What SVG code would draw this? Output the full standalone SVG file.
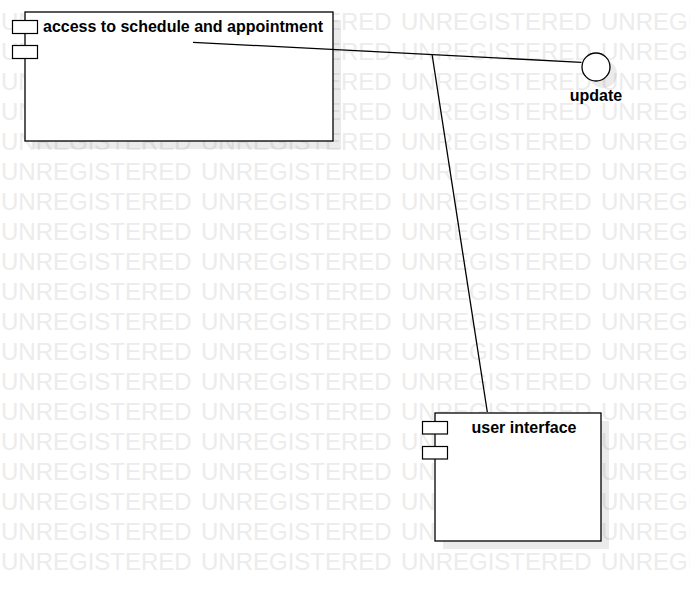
<svg xmlns="http://www.w3.org/2000/svg" width="690" height="591" viewBox="0 0 690 591">
<style>
.wm{font-family:"Liberation Sans",Arial,sans-serif;font-size:24px;fill:#ececec}
.box{fill:#ffffff;stroke:#000000;stroke-width:1.3}
.port{fill:#ffffff;stroke:#000000;stroke-width:1.2}
.shadow{fill:#000000;fill-opacity:0.08}
.lbl{font-family:"Liberation Sans",Arial,sans-serif;font-size:16px;font-weight:bold;fill:#000000}
.conn{fill:none;stroke:#000000;stroke-width:1.3}
</style>
<rect width="690" height="591" fill="#ffffff"/>
<g id="watermark">
<text class="wm" x="1" y="29.5">UNREGISTERED</text><text class="wm" x="201" y="29.5">UNREGISTERED</text><text class="wm" x="401" y="29.5">UNREGISTERED</text><text class="wm" x="601" y="29.5">UNREGISTERED</text>
<text class="wm" x="1" y="59.5">UNREGISTERED</text><text class="wm" x="201" y="59.5">UNREGISTERED</text><text class="wm" x="401" y="59.5">UNREGISTERED</text><text class="wm" x="601" y="59.5">UNREGISTERED</text>
<text class="wm" x="1" y="89.5">UNREGISTERED</text><text class="wm" x="201" y="89.5">UNREGISTERED</text><text class="wm" x="401" y="89.5">UNREGISTERED</text><text class="wm" x="601" y="89.5">UNREGISTERED</text>
<text class="wm" x="1" y="119.5">UNREGISTERED</text><text class="wm" x="201" y="119.5">UNREGISTERED</text><text class="wm" x="401" y="119.5">UNREGISTERED</text><text class="wm" x="601" y="119.5">UNREGISTERED</text>
<text class="wm" x="1" y="149.5">UNREGISTERED</text><text class="wm" x="201" y="149.5">UNREGISTERED</text><text class="wm" x="401" y="149.5">UNREGISTERED</text><text class="wm" x="601" y="149.5">UNREGISTERED</text>
<text class="wm" x="1" y="179.5">UNREGISTERED</text><text class="wm" x="201" y="179.5">UNREGISTERED</text><text class="wm" x="401" y="179.5">UNREGISTERED</text><text class="wm" x="601" y="179.5">UNREGISTERED</text>
<text class="wm" x="1" y="209.5">UNREGISTERED</text><text class="wm" x="201" y="209.5">UNREGISTERED</text><text class="wm" x="401" y="209.5">UNREGISTERED</text><text class="wm" x="601" y="209.5">UNREGISTERED</text>
<text class="wm" x="1" y="239.5">UNREGISTERED</text><text class="wm" x="201" y="239.5">UNREGISTERED</text><text class="wm" x="401" y="239.5">UNREGISTERED</text><text class="wm" x="601" y="239.5">UNREGISTERED</text>
<text class="wm" x="1" y="269.5">UNREGISTERED</text><text class="wm" x="201" y="269.5">UNREGISTERED</text><text class="wm" x="401" y="269.5">UNREGISTERED</text><text class="wm" x="601" y="269.5">UNREGISTERED</text>
<text class="wm" x="1" y="299.5">UNREGISTERED</text><text class="wm" x="201" y="299.5">UNREGISTERED</text><text class="wm" x="401" y="299.5">UNREGISTERED</text><text class="wm" x="601" y="299.5">UNREGISTERED</text>
<text class="wm" x="1" y="329.5">UNREGISTERED</text><text class="wm" x="201" y="329.5">UNREGISTERED</text><text class="wm" x="401" y="329.5">UNREGISTERED</text><text class="wm" x="601" y="329.5">UNREGISTERED</text>
<text class="wm" x="1" y="359.5">UNREGISTERED</text><text class="wm" x="201" y="359.5">UNREGISTERED</text><text class="wm" x="401" y="359.5">UNREGISTERED</text><text class="wm" x="601" y="359.5">UNREGISTERED</text>
<text class="wm" x="1" y="389.5">UNREGISTERED</text><text class="wm" x="201" y="389.5">UNREGISTERED</text><text class="wm" x="401" y="389.5">UNREGISTERED</text><text class="wm" x="601" y="389.5">UNREGISTERED</text>
<text class="wm" x="1" y="419.5">UNREGISTERED</text><text class="wm" x="201" y="419.5">UNREGISTERED</text><text class="wm" x="401" y="419.5">UNREGISTERED</text><text class="wm" x="601" y="419.5">UNREGISTERED</text>
<text class="wm" x="1" y="449.5">UNREGISTERED</text><text class="wm" x="201" y="449.5">UNREGISTERED</text><text class="wm" x="401" y="449.5">UNREGISTERED</text><text class="wm" x="601" y="449.5">UNREGISTERED</text>
<text class="wm" x="1" y="479.5">UNREGISTERED</text><text class="wm" x="201" y="479.5">UNREGISTERED</text><text class="wm" x="401" y="479.5">UNREGISTERED</text><text class="wm" x="601" y="479.5">UNREGISTERED</text>
<text class="wm" x="1" y="509.5">UNREGISTERED</text><text class="wm" x="201" y="509.5">UNREGISTERED</text><text class="wm" x="401" y="509.5">UNREGISTERED</text><text class="wm" x="601" y="509.5">UNREGISTERED</text>
<text class="wm" x="1" y="539.5">UNREGISTERED</text><text class="wm" x="201" y="539.5">UNREGISTERED</text><text class="wm" x="401" y="539.5">UNREGISTERED</text><text class="wm" x="601" y="539.5">UNREGISTERED</text>
<text class="wm" x="1" y="569.5">UNREGISTERED</text><text class="wm" x="201" y="569.5">UNREGISTERED</text><text class="wm" x="401" y="569.5">UNREGISTERED</text><text class="wm" x="601" y="569.5">UNREGISTERED</text>
</g>
<g id="node-access">
<rect class="shadow" x="33" y="20" width="308" height="129"/>
<rect class="box" x="25" y="12" width="308" height="129"/>
<rect class="port" x="12.5" y="20.5" width="25" height="13"/>
<rect class="port" x="12.5" y="45.5" width="25" height="13"/>
<text class="lbl" x="43" y="32">access to schedule and appointment</text>
</g>
<g id="node-update">
<circle class="shadow" cx="603" cy="74" r="14"/>
<circle cx="596" cy="67" r="14" fill="#ffffff" stroke="#000000" stroke-width="1.3"/>
<text class="lbl" x="596" y="101" text-anchor="middle">update</text>
</g>
<g id="node-ui">
<rect class="shadow" x="443" y="421" width="166" height="128"/>
<rect class="box" x="435" y="413" width="166" height="128"/>
<rect class="port" x="422.5" y="421.5" width="25" height="12.5"/>
<rect class="port" x="422.5" y="446.5" width="25" height="12.5"/>
<text class="lbl" x="524" y="433" text-anchor="middle">user interface</text>
</g>
<g id="connectors">
<line class="conn" x1="193" y1="42.3" x2="581.5" y2="62.3"/>
<line class="conn" x1="432" y1="54" x2="487.3" y2="412"/>
</g>
</svg>
